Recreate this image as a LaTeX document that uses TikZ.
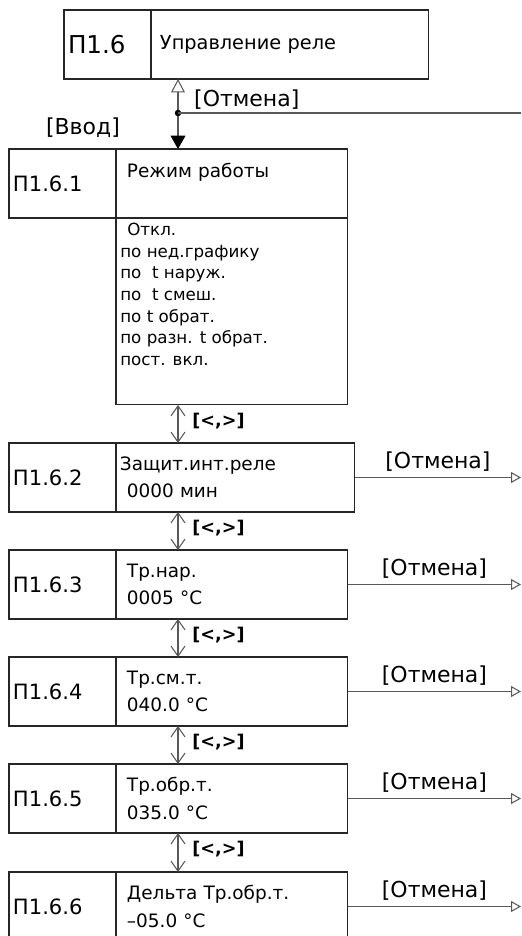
\documentclass[tikz,border=0pt]{standalone}
\usepackage{fontspec}
\setmainfont{DejaVu Sans}
\usetikzlibrary{arrows.meta,calc}

\begin{document}
\begin{tikzpicture}[
    x=0.02cm, y=-0.02cm,
    idcell/.style={draw=black!85, line width=0.6pt, outer sep=0pt, anchor=north west, minimum height=1.38cm, inner xsep=0.08cm, text width=1.98cm, align=left, font=\fontsize{12}{14}\selectfont},
    parcell/.style={draw=black!85, line width=0.6pt, outer sep=0pt, anchor=north west, minimum height=1.38cm, inner xsep=0.22cm, text width=4.2cm, align=left, font=\fontsize{10.5}{15.5}\selectfont},
    listtext/.style={anchor=north west, inner xsep=0.08cm, inner ysep=0.1cm, align=left, font=\fontsize{9.5}{12.3}\selectfont},
    lbl/.style={font=\fontsize{12.5}{14}\selectfont},
    keys/.style={font=\bfseries\fontsize{10}{12}\selectfont, anchor=west},
    link/.style={draw=black!65, line width=0.6pt},
    dbl/.style={link, {Straight Barb[length=0.2cm,width=0.28cm]}-{Straight Barb[length=0.2cm,width=0.28cm]}},
    cancel/.style={link, -{Triangle[open,length=0.2cm,width=0.22cm]}}
]
    \useasboundingbox (0,0) rectangle (521,936);
    \coordinate (ax) at (178,0);
    \coordinate (ex) at (521,0);

    % Управление реле
    \node[idcell, text width=1.58cm, font=\fontsize{14}{16}\selectfont] (p16) at (64,10) {П1.6};
    \node[parcell, text width=5.2cm, inner xsep=0.18cm, font=\fontsize{11}{14}\selectfont] (p16t) at (p16.north east) {Управление реле};

    % вход / выход
    \coordinate (j) at (178,113);
    \draw[link, {Triangle[open,length=0.27cm,width=0.28cm]}-{Triangle[length=0.27cm,width=0.3cm,color=black,fill=black]}] (j |- p16.south) -- (j |- 0,149);
    \fill[black] (j) circle (0.065cm);
    \draw[link] (j) -- (j -| ex);
    \node[lbl, anchor=west] (esc) at (188,100) {[Отмена]};
    \node[lbl] (enter) at (83,128) {[Ввод]};

    % П1.6.1
    \node[idcell] (p161) at (9,149) {П1.6.1};
    \node[parcell] (p161t) at (p161.north east) {Режим работы\\ \mbox{}};
    \node[parcell, minimum height=3.74cm] (p161l) at (p161t.south west) {};
    \node[listtext] (p161m) at (p161l.north west) {\hspace*{0.14cm}Откл.\\по нед.графику\\по~ t наруж.\\по~ t смеш.\\по t обрат.\\по разн. t обрат.\\пост. вкл.};

    % П1.6.2
    \node[idcell] (p162) at (9,443) {П1.6.2};
    \node[parcell, text width=4.62cm, inner xsep=0.08cm] (p162t) at (p162.north east) {Защит.инт.реле\\\hspace*{0.14cm}0000 мин};

    % П1.6.3
    \node[idcell] (p163) at (9,550) {П1.6.3};
    \node[parcell] (p163t) at (p163.north east) {Тр.нар.\\0005 °C};

    % П1.6.4
    \node[idcell] (p164) at (9,657) {П1.6.4};
    \node[parcell] (p164t) at (p164.north east) {Тр.см.т.\\040.0 °C};

    % П1.6.5
    \node[idcell] (p165) at (9,764) {П1.6.5};
    \node[parcell] (p165t) at (p165.north east) {Тр.обр.т.\\035.0 °C};

    % П1.6.6
    \node[idcell] (p166) at (9,872) {П1.6.6};
    \node[parcell] (p166t) at (p166.north east) {Дельта Тр.обр.т.\\–05.0 °C};

    % стрелки [<,>]
    \draw[dbl] (ax |- p161l.south) -- (ax |- p162t.north) node[keys, midway, xshift=0.16cm, yshift=0.06cm] (k1) {[<,>]};
    \draw[dbl] (ax |- p162t.south) -- (ax |- p163t.north) node[keys, midway, xshift=0.16cm, yshift=0.06cm] (k2) {[<,>]};
    \draw[dbl] (ax |- p163t.south) -- (ax |- p164t.north) node[keys, midway, xshift=0.16cm, yshift=0.06cm] (k3) {[<,>]};
    \draw[dbl] (ax |- p164t.south) -- (ax |- p165t.north) node[keys, midway, xshift=0.16cm, yshift=0.06cm] (k4) {[<,>]};
    \draw[dbl] (ax |- p165t.south) -- (ax |- p166t.north) node[keys, midway, xshift=0.16cm, yshift=0.06cm] (k5) {[<,>]};

    % стрелки [Отмена]
    \draw[cancel] (p162t.east) -- (p162t.east -| ex) node[lbl, midway, above] (esc2) {[Отмена]};
    \draw[cancel] (p163t.east) -- (p163t.east -| ex) node[lbl, midway, above] (esc3) {[Отмена]};
    \draw[cancel] (p164t.east) -- (p164t.east -| ex) node[lbl, midway, above] (esc4) {[Отмена]};
    \draw[cancel] (p165t.east) -- (p165t.east -| ex) node[lbl, midway, above] (esc5) {[Отмена]};
    \draw[cancel] (p166t.east) -- (p166t.east -| ex) node[lbl, midway, above] (esc6) {[Отмена]};
\end{tikzpicture}
\end{document}
